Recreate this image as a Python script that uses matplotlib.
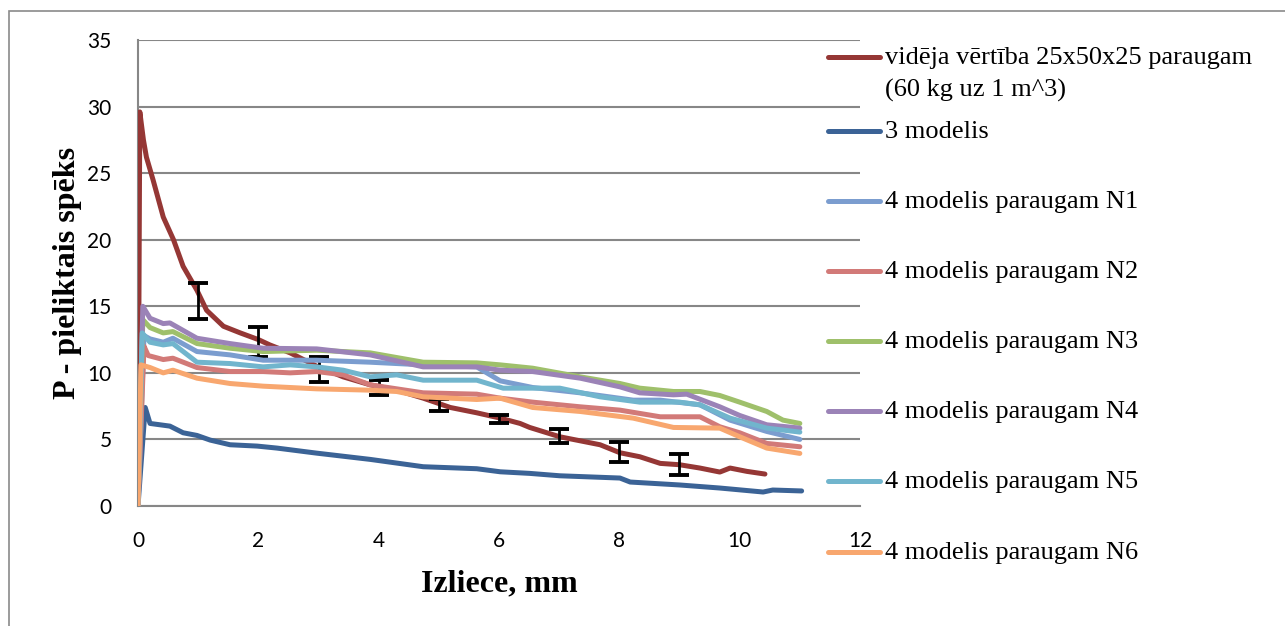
import matplotlib
matplotlib.use('Agg')
import matplotlib.pyplot as plt
from matplotlib.lines import Line2D
from matplotlib.patches import Rectangle

# deflection (mm) / applied force for each series
mean_x = [0, 0.03, 0.09, 0.14, 0.25, 0.42, 0.59, 0.75, 0.98, 1.14, 1.42, 1.7, 2.0, 2.19, 2.53,
          2.97, 3.41, 3.86, 4.3, 4.74, 5.19, 5.63, 6.02, 6.35, 6.51, 7.01, 7.68, 8.01, 8.34,
          8.68, 9.0, 9.34, 9.67, 9.84, 10.12, 10.42]
mean_y = [0, 29.6, 27.5, 26.2, 24.5, 21.7, 20.0, 18.0, 16.2, 14.7, 13.5, 13.0, 12.5, 12.1, 11.5,
          10.5, 9.7, 9.1, 8.7, 8.1, 7.4, 7.0, 6.6, 6.2, 5.9, 5.2, 4.6, 4.0, 3.7,
          3.2, 3.1, 2.85, 2.55, 2.85, 2.6, 2.4]

err_x = [1, 2, 3, 4, 5, 6, 7, 8, 9]
err_lo = [14.05, 11.2, 9.35, 8.3, 7.1, 6.2, 4.7, 3.3, 2.3]
err_hi = [16.75, 13.45, 11.2, 9.5, 8.0, 6.8, 5.8, 4.8, 3.9]

m3_x = [0, 0.12, 0.2, 0.53, 0.75, 0.98, 1.2, 1.53, 1.98, 2.31, 2.97, 3.86, 4.74, 5.63, 6.02,
        6.51, 7.01, 8.01, 8.18, 9.0, 9.67, 10.39, 10.55, 11.03]
m3_y = [0, 7.4, 6.2, 6.0, 5.5, 5.3, 4.95, 4.6, 4.5, 4.35, 3.97, 3.5, 2.95, 2.8, 2.57,
        2.45, 2.27, 2.1, 1.8, 1.58, 1.35, 1.05, 1.2, 1.13]

n1_x = [0, 0.1, 0.2, 0.42, 0.58, 0.98, 1.53, 2.08, 2.97, 3.86, 4.74, 5.63, 6.02, 6.56,
        7.35, 8.23, 8.68, 9.34, 9.84, 10.45, 11.0]
n1_y = [0, 12.8, 12.55, 12.3, 12.6, 11.6, 11.35, 10.95, 10.95, 10.8, 10.6, 10.45, 9.4, 8.9,
        8.5, 7.95, 7.95, 7.6, 6.45, 5.6, 5.0]

n2_x = [0, 0.1, 0.17, 0.42, 0.58, 0.98, 1.53, 2.08, 2.53, 2.97, 3.41, 3.86, 4.74, 5.63,
        6.02, 6.56, 7.35, 8.01, 8.68, 9.34, 9.67, 10.0, 10.45, 11.0]
n2_y = [0, 12.0, 11.3, 11.0, 11.1, 10.4, 10.1, 10.1, 10.0, 10.1, 9.85, 9.1, 8.5, 8.4,
        8.1, 7.8, 7.45, 7.2, 6.7, 6.7, 5.95, 5.5, 4.7, 4.45]

n3_x = [0, 0.08, 0.2, 0.42, 0.58, 0.98, 1.53, 2.08, 2.97, 3.86, 4.74, 5.63, 6.02, 6.56,
        7.35, 8.01, 8.34, 8.9, 9.34, 9.67, 10.0, 10.45, 10.72, 11.0]
n3_y = [0, 14.0, 13.4, 13.0, 13.1, 12.2, 11.85, 11.6, 11.7, 11.5, 10.8, 10.75, 10.6, 10.35,
        9.7, 9.2, 8.85, 8.6, 8.6, 8.3, 7.8, 7.1, 6.45, 6.2]

n4_x = [0, 0.08, 0.2, 0.42, 0.53, 0.98, 1.53, 2.08, 2.97, 3.86, 4.74, 5.63, 6.02, 6.56,
        7.35, 8.01, 8.34, 8.9, 9.12, 9.67, 10.0, 10.45, 11.0]
n4_y = [0, 15.0, 14.1, 13.7, 13.75, 12.6, 12.2, 11.85, 11.8, 11.35, 10.45, 10.45, 10.2, 10.1,
        9.6, 8.95, 8.5, 8.35, 8.4, 7.45, 6.8, 6.1, 5.85]

n5_x = [0, 0.07, 0.2, 0.42, 0.58, 0.98, 1.53, 2.08, 2.53, 2.97, 3.41, 3.86, 4.3, 4.74,
        5.63, 6.07, 6.51, 7.01, 7.68, 8.34, 9.0, 9.34, 9.84, 10.45, 11.0]
n5_y = [0, 13.0, 12.3, 12.1, 12.2, 10.8, 10.7, 10.45, 10.6, 10.45, 10.2, 9.7, 9.85, 9.45,
        9.45, 8.85, 8.85, 8.85, 8.2, 7.8, 7.8, 7.6, 6.6, 5.85, 5.55]

n6_x = [0, 0.05, 0.2, 0.42, 0.58, 0.98, 1.53, 2.08, 2.97, 3.86, 4.3, 4.74, 5.63, 6.02,
        6.56, 7.35, 8.23, 8.9, 9.67, 10.0, 10.45, 11.0]
n6_y = [0, 10.6, 10.4, 10.0, 10.2, 9.6, 9.2, 9.0, 8.8, 8.7, 8.6, 8.2, 8.0, 8.1,
        7.4, 7.1, 6.6, 5.9, 5.85, 5.2, 4.35, 3.95]

labels = ['vidēja vērtība 25x50x25 paraugam\n(60 kg uz 1 m^3)', '3 modelis',
          '4 modelis paraugam N1', '4 modelis paraugam N2', '4 modelis paraugam N3',
          '4 modelis paraugam N4', '4 modelis paraugam N5', '4 modelis paraugam N6']
colors = ['#953735', '#3b6396', '#7b9dcf', '#d27a78', '#9fc06b', '#9b83b7', '#71b5cd', '#f8a76f']

series = [(mean_x, mean_y), (m3_x, m3_y), (n1_x, n1_y), (n2_x, n2_y),
          (n3_x, n3_y), (n4_x, n4_y), (n5_x, n5_y), (n6_x, n6_y)]

fig = plt.figure(figsize=(12.85, 6.26), dpi=100)
ax = fig.add_axes([138 / 1285, 1 - 506 / 626, (860 - 138) / 1285, (506 - 40) / 626])

lw = 3.6
# later series sit on top of earlier ones
for i, ((x, y), c) in enumerate(zip(series, colors)):
    ax.plot(x, y, color=c, lw=lw, solid_capstyle='round', solid_joinstyle='round',
            zorder=3 + i * 0.1)

err_mid = [(lo + hi) / 2 for lo, hi in zip(err_lo, err_hi)]
err_half = [(hi - lo) / 2 for lo, hi in zip(err_lo, err_hi)]
ax.errorbar(err_x, err_mid, yerr=err_half, fmt='none', ecolor='black',
            elinewidth=2, capsize=7, capthick=2.8, zorder=3.05)

ax.set_xlim(0, 12)
ax.set_ylim(0, 35)
ax.set_xticks(range(0, 13, 2))
ax.set_yticks(range(0, 36, 5))
ax.yaxis.grid(True, color='#878787', lw=1.5)
ax.set_axisbelow(True)
ax.tick_params(length=0, labelsize=15)
ax.tick_params(axis='y', pad=19)
ax.tick_params(axis='x', pad=18)
for lab in ax.get_xticklabels() + ax.get_yticklabels():
    lab.set_family(['Lato', 'DejaVu Sans'])
for s in ['top', 'right']:
    ax.spines[s].set_visible(False)
for s in ['left', 'bottom']:
    ax.spines[s].set_color('#878787')
    ax.spines[s].set_linewidth(1.5)

ax.set_xlabel('Izliece, mm', family='Liberation Serif', fontweight='bold', fontsize=23,
              labelpad=13)
ax.set_ylabel('P - pieliktais spēks', family='Liberation Serif', fontweight='bold', fontsize=23,
              labelpad=4)

# legend on the right, handle level with the first text line
leg_y = [57, 131, 201, 271, 341, 411, 481, 552]
for c, lab, yy in zip(colors, labels, leg_y):
    fy = 1 - yy / 626
    fig.add_artist(Line2D([828 / 1285, 880 / 1285], [fy, fy], color=c, lw=lw,
                          solid_capstyle='round', transform=fig.transFigure))
    if '\n' in lab:
        fig.text(885 / 1285, fy + 10 / 626, lab, family='Liberation Serif', fontsize=19,
                 va='top', ha='left', linespacing=1.55)
    else:
        fig.text(885 / 1285, fy - 1 / 626, lab, family='Liberation Serif', fontsize=19,
                 va='center', ha='left')

# chart area border
fig.add_artist(Rectangle((9 / 1285, -0.05), 1.1, 1 - 11 / 626 + 0.05, fill=False,
                         edgecolor='#8a8a8a', lw=1.2, transform=fig.transFigure))

fig.savefig('out.png', dpi=100)
